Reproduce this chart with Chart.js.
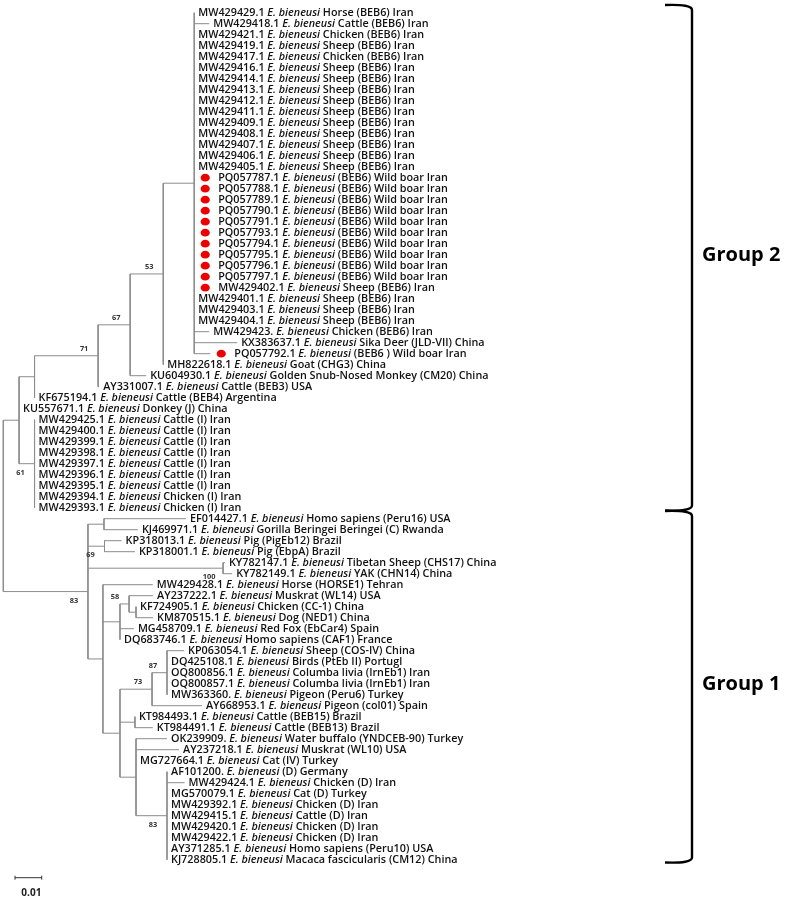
<!DOCTYPE html>
<html>
<head>
<meta charset="utf-8">
<script src="https://cdn.jsdelivr.net/npm/chart.js@4.4.1/dist/chart.umd.min.js"></script>
<style>
  html, body { margin: 0; padding: 0; background: #fff; }
  #wrap { width: 787px; height: 902px; position: relative; }
</style>
</head>
<body>
<div id="wrap"><canvas id="tree"></canvas></div>
<script>
// taxa, top to bottom as they appear in the tree
const accessions = [
  'MW429429.1', 'MW429418.1', 'MW429421.1', 'MW429419.1', 'MW429417.1', 'MW429416.1', 'MW429414.1',
  'MW429413.1', 'MW429412.1', 'MW429411.1', 'MW429409.1', 'MW429408.1', 'MW429407.1', 'MW429406.1',
  'MW429405.1', 'PQ057787.1', 'PQ057788.1', 'PQ057789.1', 'PQ057790.1', 'PQ057791.1', 'PQ057793.1',
  'PQ057794.1', 'PQ057795.1', 'PQ057796.1', 'PQ057797.1', 'MW429402.1', 'MW429401.1', 'MW429403.1',
  'MW429404.1', 'MW429423.', 'KX383637.1', 'PQ057792.1', 'MH822618.1', 'KU604930.1', 'AY331007.1',
  'KF675194.1', 'KU557671.1', 'MW429425.1', 'MW429400.1', 'MW429399.1', 'MW429398.1', 'MW429397.1',
  'MW429396.1', 'MW429395.1', 'MW429394.1', 'MW429393.1',
  'EF014427.1', 'KJ469971.1', 'KP318013.1', 'KP318001.1', 'KY782147.1', 'KY782149.1', 'MW429428.1',
  'AY237222.1', 'KF724905.1', 'KM870515.1', 'MG458709.1', 'DQ683746.1', 'KP063054.1', 'DQ425108.1',
  'OQ800856.1', 'OQ800857.1', 'MW363360.', 'AY668953.1', 'KT984493.1', 'KT984491.1', 'OK239909.',
  'AY237218.1', 'MG727664.1', 'AF101200.', 'MW429424.1', 'MG570079.1', 'MW429392.1', 'MW429415.1',
  'MW429420.1', 'MW429422.1', 'AY371285.1', 'KJ728805.1'
];
const species = 'E. bieneusi';
const hosts = [
  'Horse (BEB6) Iran', 'Cattle (BEB6) Iran', 'Chicken (BEB6) Iran', 'Sheep (BEB6) Iran', 'Chicken (BEB6) Iran',
  'Sheep (BEB6) Iran', 'Sheep (BEB6) Iran', 'Sheep (BEB6) Iran', 'Sheep (BEB6) Iran', 'Sheep (BEB6) Iran',
  'Sheep (BEB6) Iran', 'Sheep (BEB6) Iran', 'Sheep (BEB6) Iran', 'Sheep (BEB6) Iran', 'Sheep (BEB6) Iran',
  '(BEB6) Wild boar Iran', '(BEB6) Wild boar Iran', '(BEB6) Wild boar Iran', '(BEB6) Wild boar Iran',
  '(BEB6) Wild boar Iran', '(BEB6) Wild boar Iran', '(BEB6) Wild boar Iran', '(BEB6) Wild boar Iran',
  '(BEB6) Wild boar Iran', '(BEB6) Wild boar Iran', 'Sheep (BEB6) Iran', 'Sheep (BEB6) Iran',
  'Sheep (BEB6) Iran', 'Sheep (BEB6) Iran', 'Chicken (BEB6) Iran', 'Sika Deer (JLD-VII) China',
  '(BEB6 ) Wild boar Iran', 'Goat (CHG3) China', 'Golden Snub-Nosed Monkey (CM20) China',
  'Cattle (BEB3) USA', 'Cattle (BEB4) Argentina', 'Donkey (J) China', 'Cattle (I) Iran', 'Cattle (I) Iran',
  'Cattle (I) Iran', 'Cattle (I) Iran', 'Cattle (I) Iran', 'Cattle (I) Iran', 'Cattle (I) Iran',
  'Chicken (I) Iran', 'Chicken (I) Iran',
  'Homo sapiens (Peru16) USA', 'Gorilla Beringei Beringei (C) Rwanda', 'Pig (PigEb12) Brazil',
  'Pig (EbpA) Brazil', 'Tibetan Sheep (CHS17) China', 'YAK (CHN14) China', 'Horse (HORSE1) Tehran',
  'Muskrat (WL14) USA', 'Chicken (CC-1) China', 'Dog (NED1) China', 'Red Fox (EbCar4) Spain',
  'Homo sapiens (CAF1) France', 'Sheep (COS-IV) China', 'Birds (PtEb II) Portugl',
  'Columba livia (IrnEb1) Iran', 'Columba livia (IrnEb1) Iran', 'Pigeon (Peru6) Turkey',
  'Pigeon (col01) Spain', 'Cattle (BEB15) Brazil', 'Cattle (BEB13) Brazil',
  'Water buffalo (YNDCEB-90) Turkey', 'Muskrat (WL10) USA', 'Cat (IV) Turkey', '(D) Germany',
  'Chicken (D) Iran', 'Cat (D) Turkey', 'Chicken (D) Iran', 'Cattle (D) Iran', 'Chicken (D) Iran',
  'Chicken (D) Iran', 'Homo sapiens (Peru10) USA', 'Macaca fascicularis (CM12) China'
];
// node each taxon hangs from, and its branch length
const taxonParent = [
  'A', 'A', 'A', 'A', 'A', 'A', 'A', 'A', 'A', 'A', 'A', 'A', 'A', 'A', 'A', 'A',
  'A', 'A', 'A', 'A', 'A', 'A', 'A', 'A', 'A', 'A', 'A', 'A', 'A', 'A', 'A', 'A',
  'B', 'C', 'D', 'E', 'F', 'G', 'G', 'G', 'G', 'G', 'G', 'G', 'G', 'G',
  'I', 'I', 'J', 'J', 'K', 'K', 'T', 'M', 'L', 'L', 'V', 'V', 'N', 'N', 'N', 'N', 'N', 'O',
  'Q', 'Q', 'R', 'R', 'R', 'S', 'S', 'S', 'S', 'S', 'S', 'S', 'S', 'S'
];
const taxonLength = [
  0, 0.0056, 0, 0, 0, 0, 0, 0, 0, 0, 0, 0, 0, 0, 0, 0,
  0, 0, 0, 0, 0, 0, 0, 0, 0, 0, 0, 0, 0, 0.0056, 0.0161, 0.0060,
  0, 0.0060, 0.0004, 0, 0, 0, 0, 0, 0, 0, 0, 0, 0, 0,
  0.0307, 0.0127, 0.0064, 0.0114, 0.0007, 0.0034, 0.0187, 0.0090, 0, 0.0064, 0.0052, 0,
  0.0064, 0, 0, 0, 0, 0.0187,
  0, 0.0067, 0.0116, 0.0161, 0, 0, 0.0066, 0, 0, 0, 0, 0, 0, 0
];
// taxa marked with a red dot (this study)
const markedTaxa = [15, 16, 17, 18, 19, 20, 21, 22, 23, 24, 25, 31];

// internal nodes
const nodeIds     = ['root', 'F', 'E', 'D', 'C', 'B', 'A', 'G', 'H', 'I', 'J', 'K', 'T', 'V', 'M', 'L', 'P', 'O', 'N', 'Q', 'R', 'S'];
const nodeParent  = [null, 'root', 'F', 'E', 'D', 'C', 'B', 'F', 'root', 'H', 'H', 'H', 'H', 'T', 'V', 'M', 'T', 'P', 'O', 'P', 'P', 'R'];
const nodeLength  = [0, 0.0059, 0.0058, 0.0238, 0.0120, 0.0124, 0.0116, 0.0058, 0.0317, 0.0060, 0.0062, 0.0506,
                     0.0056, 0.0064, 0.0034, 0.0026, 0.0064, 0.0120, 0.0056, 0.0056, 0.0060, 0.0116];
const nodeSupport = [null, null, null, 71, 67, 53, null, 61, 83, null, 69, 100, null, null, 58, null, null, 73, 87, null, null, 83];

const groupNames = ['Group 2', 'Group 1'];
const groupFirst = [0, 46];
const groupLast  = [45, 77];

const scaleBarValue = 0.01;

const FONT = "'Open Sans', 'DejaVu Sans', sans-serif";

function buildTree() {
    const nodes = {};
    nodeIds.forEach((id, i) => {
        nodes[id] = { id, parent: nodeParent[i], length: nodeLength[i], support: nodeSupport[i], children: [] };
    });
    const leaves = accessions.map((acc, i) => ({
        leaf: i, parent: taxonParent[i], length: taxonLength[i], y: i, minLeaf: i, children: []
    }));
    nodeIds.forEach(id => {
        const n = nodes[id];
        if (n.parent) nodes[n.parent].children.push(n);
    });
    leaves.forEach(l => nodes[l.parent].children.push(l));

    function minLeaf(n) {
        if (!n.children.length) return n.minLeaf;
        n.minLeaf = Math.min(...n.children.map(minLeaf));
        n.children.sort((a, b) => a.minLeaf - b.minLeaf);
        return n.minLeaf;
    }
    function place(n, parentX) {
        n.x = parentX + n.length;
        n.children.forEach(c => place(c, n.x));
        if (n.children.length) {
            n.y = (n.children[0].y + n.children[n.children.length - 1].y) / 2;
        }
    }
    minLeaf(nodes.root);
    place(nodes.root, 0);
    return { nodes, leaves, root: nodes.root };
}

const tree = buildTree();

// branches as one polyline broken by gaps
function branchPoints() {
    const pts = [];
    const gap = () => pts.push({ x: 0, y: null });
    Object.values(tree.nodes).forEach(n => {
        const first = n.children[0], last = n.children[n.children.length - 1];
        pts.push({ x: n.x, y: first.y }, { x: n.x, y: last.y });
        gap();
        n.children.forEach(c => {
            if (c.length > 0) {
                pts.push({ x: n.x, y: c.y }, { x: c.x, y: c.y });
                gap();
            }
        });
    });
    return pts;
}

const labelPlugin = {
    id: 'treeLabels',
    afterDatasetsDraw(chart) {
        const { ctx, scales: { x, y }, chartArea } = chart;
        ctx.save();
        ctx.textBaseline = 'middle';

        // taxon names
        const fNormal = `600 10.8px ${FONT}`;
        const fItalic = `italic 600 10.8px ${FONT}`;
        tree.leaves.forEach(l => {
            let px = x.getPixelForValue(l.x);
            const py = y.getPixelForValue(l.y);
            if (markedTaxa.includes(l.leaf)) {
                ctx.fillStyle = '#ec0000';
                ctx.beginPath();
                ctx.ellipse(px + 11, py, 4.6, 3.9, 0, 0, Math.PI * 2);
                ctx.fill();
                px += 24;
            } else {
                px += 4;
            }
            ctx.fillStyle = '#111';
            ctx.font = fNormal;
            const a = accessions[l.leaf] + ' ';
            ctx.fillText(a, px, py);
            px += ctx.measureText(a).width;
            ctx.font = fItalic;
            ctx.fillText(species, px, py);
            px += ctx.measureText(species + ' ').width;
            ctx.font = fNormal;
            ctx.fillText(hosts[l.leaf], px, py);
        });

        // bootstrap values
        ctx.font = `bold 7.4px ${FONT}`;
        ctx.textAlign = 'center';
        ctx.fillStyle = '#333';
        Object.values(tree.nodes).forEach(n => {
            if (n.support == null) return;
            const parent = tree.nodes[n.parent];
            const above = parent.children[0] === n;
            ctx.fillText(String(n.support), x.getPixelForValue(n.x) - 14, y.getPixelForValue(n.y) + (above ? -7 : 9));
        });

        // group brackets
        const right = chartArea.right - 95;
        const left = right - 27;
        ctx.strokeStyle = '#000';
        ctx.lineWidth = 2.4;
        ctx.fillStyle = '#000';
        ctx.textAlign = 'left';
        ctx.font = `bold 20px ${FONT}`;
        groupNames.forEach((g, i) => {
            const top = y.getPixelForValue(groupFirst[i] - 0.7);
            const bottom = y.getPixelForValue(groupLast[i] + 0.25);
            ctx.beginPath();
            ctx.moveTo(left, top);
            ctx.quadraticCurveTo(right, top - 1, right, top + 5);
            ctx.lineTo(right, bottom - 5);
            ctx.quadraticCurveTo(right, bottom + 1, left, bottom);
            ctx.stroke();
            ctx.fillText(g, right + 10, (top + bottom) / 2 - 2);
        });

        // scale bar
        const x0 = x.getPixelForValue(0) + 11.7;
        const x1 = x0 + x.getPixelForValue(scaleBarValue) - x.getPixelForValue(0);
        const yb = y.getPixelForValue(groupLast[1]) + 18;
        ctx.strokeStyle = '#333';
        ctx.lineWidth = 1;
        ctx.beginPath();
        ctx.moveTo(x0, yb); ctx.lineTo(x1, yb);
        ctx.moveTo(x0, yb - 2); ctx.lineTo(x0, yb + 2);
        ctx.moveTo(x1, yb - 2); ctx.lineTo(x1, yb + 2);
        ctx.stroke();
        ctx.fillStyle = '#222';
        ctx.textAlign = 'center';
        ctx.font = `bold 10px ${FONT}`;
        ctx.fillText(String(scaleBarValue), (x0 + x1) / 2 + 3, yb + 15);
        ctx.restore();
    }
};

new Chart(document.getElementById('tree'), {
    type: 'scatter',
    data: {
        datasets: [{
            data: branchPoints(),
            showLine: true,
            spanGaps: false,
            borderColor: '#8c8c8c',
            borderWidth: 1,
            pointRadius: 0,
            pointHoverRadius: 0
        }]
    },
    options: {
        responsive: true,
        maintainAspectRatio: false,
        animation: false,
        layout: { padding: 0 },
        plugins: { legend: { display: false }, tooltip: { enabled: false } },
        scales: {
            x: { type: 'linear', display: false, min: -0.00124, max: 0.2935 },
            y: { type: 'linear', display: false, reverse: true, min: -1.1545, max: 80.8455 }
        }
    },
    plugins: [labelPlugin]
});
</script>
</body>
</html>
